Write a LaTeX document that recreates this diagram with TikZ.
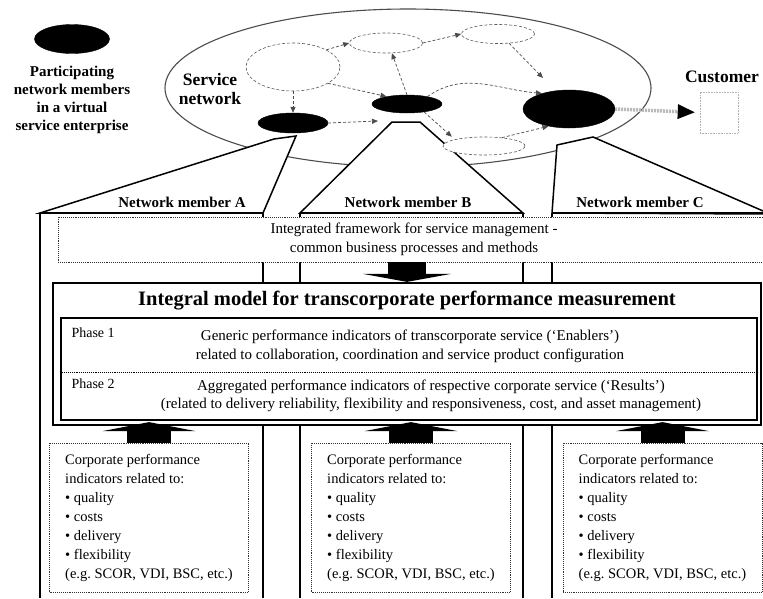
\documentclass[tikz,border=0pt]{standalone}
\usepackage{fontspec}
\setmainfont{Liberation Serif}
\usepackage{tikz}
\usetikzlibrary{shapes.geometric, arrows.meta, calc}
\definecolor{netgray}{gray}{0.3}
\tikzstyle{member} = [ellipse, fill=black, draw=black, inner sep=0pt]
\tikzstyle{service} = [
  ellipse, draw=gray!70!black, densely dashed,
  line width=0.6pt, fill=white, inner sep=0pt
]
\tikzstyle{flow} = [densely dashed, gray!60!black, line width=0.7pt, -{Triangle[length=6pt,width=5pt]}]
\tikzstyle{housing} = [draw=black, fill=white, line width=1.5pt, line join=miter]
\tikzstyle{column} = [black, line width=1.8pt]
\tikzstyle{tag} = [font=\fontsize{15}{18}\selectfont\bfseries, inner sep=1pt]
\tikzstyle{bigtag} = [font=\fontsize{17.5}{19}\selectfont\bfseries, inner sep=1pt]
\tikzstyle{bodytext} = [font=\fontsize{15}{18.5}\selectfont, align=center, inner sep=0pt]
\tikzstyle{indicators} = [
  rectangle, draw=black!80, densely dotted, line width=0.9pt, fill=white,
  minimum width=199pt, minimum height=149pt,
  align=left, font=\fontsize{14.5}{19}\selectfont\frenchspacing
]
\tikzstyle{blockarrow} = [black, line width=44pt, -{Triangle[length=9pt,width=93pt,line width=0pt]}]
\tikzstyle{deliver} = [
  gray!55, line width=3.5pt, dash pattern=on 2pt off 1pt, shorten >=5pt,
  -{Triangle[length=17pt,width=15pt,color=black,line width=0pt]}
]

\begin{document}
\begin{tikzpicture}[x=1pt, y=-1pt]
  \useasboundingbox (0,0) rectangle (763,598);
  \clip (0,0) rectangle (763,598);

  % Legend
  \node[member, minimum width=75pt, minimum height=29pt] (legend) at (72,39) {};
  \node[tag, align=center] (legendtext) at (72,100) {Participating\\network members\\in a virtual\\service enterprise};

  % Service network
  \node[ellipse, draw=netgray, line width=1.1pt, minimum width=486pt, minimum height=158pt] (net) at (408,88) {};
  \node[bigtag, align=center] (nettext) at (210,89) {Service\\network};

  % Housings of the network members
  \filldraw[housing] (40,213) -- (274,139) -- (296,136) -- (263,213) -- cycle;
  \filldraw[housing] (300,213) -- (392,122) -- (420,122) -- (523,213) -- cycle;
  \filldraw[housing] (552,213) -- (557,145) -- (593,137) -- (770,214) -- cycle;
  \foreach \x in {40, 263, 300, 523, 552}
    \draw[column] (\x,213) -- (\x,598);
  \draw[column, line width=2.4pt] (40,213) -- (263,213) (300,213) -- (523,213) (552,213) -- (770,213);

  \node[tag] (memberA) at (182,202) {Network member A};
  \node[tag] (memberB) at (408,202) {Network member B};
  \node[tag] (memberC) at (640,202) {Network member C};

  % Framework
  \node[rectangle, draw=black!80, densely dotted, line width=0.9pt, fill=white,
    minimum width=712pt, minimum height=45pt, bodytext] (frame) at (414,239.5)
    {Integrated framework for service management~-\\common business processes and methods};

  % Integral model
  \node[rectangle, draw, line width=2.2pt, fill=white, minimum width=708pt, minimum height=142pt] (integral) at (407,354) {};
  \node[font=\fontsize{20.5}{24}\selectfont\bfseries] (title) at (407,301) {Integral model for transcorporate performance measurement};
  \node[rectangle, draw, line width=1.3pt, minimum width=696pt, minimum height=102pt] (phases) at (409,369) {};
  \draw[densely dotted, line width=0.9pt] (phases.west |- 0,372) -- (phases.east |- 0,372);
  \node[font=\fontsize{14}{16}\selectfont, anchor=west] (phase1) at (68,333) {Phase 1};
  \node[font=\fontsize{14}{16}\selectfont, anchor=west] (phase2) at (68,384) {Phase 2};
  \node[bodytext] (enablers) at (410,346.5) {Generic performance indicators of transcorporate service (`Enablers')\\related to collaboration, coordination and service product configuration};
  \node[bodytext] (results) at (431,396) {Aggregated performance indicators of respective corporate service (`Results')\\(related to delivery reliability, flexibility and responsiveness, cost, and asset management)};

  % Corporate indicators
  \node[indicators] (corpA) at (149,517.5) {Corporate performance\\indicators related to:\\• quality\\• costs\\• delivery\\• flexibility\\(e.g. SCOR, VDI, BSC, etc.)};
  \node[indicators] (corpB) at (411,517.5) {Corporate performance\\indicators related to:\\• quality\\• costs\\• delivery\\• flexibility\\(e.g. SCOR, VDI, BSC, etc.)};
  \node[indicators] (corpC) at (662.5,517.5) {Corporate performance\\indicators related to:\\• quality\\• costs\\• delivery\\• flexibility\\(e.g. SCOR, VDI, BSC, etc.)};

  % Block arrows
  \draw[blockarrow, line width=38pt, -{Triangle[length=8pt,width=88pt,line width=0pt]}] (frame.south -| integral.north) -- (integral.north);
  \draw[blockarrow] (corpA.north) -- ($(corpA.north |- integral.south)+(0,-4)$);
  \draw[blockarrow] (corpB.north) -- ($(corpB.north |- integral.south)+(0,-4)$);
  \draw[blockarrow] (corpC.north) -- ($(corpC.north |- integral.south)+(0,-4)$);

  % Services inside the network
  \node[service, minimum width=94pt, minimum height=48pt] (svcA) at (293,67) {};
  \node[service, minimum width=73pt, minimum height=20pt] (svcB) at (386,43) {};
  \node[service, minimum width=73pt, minimum height=19pt] (svcC) at (498,34) {};
  \node[service, minimum width=82pt, minimum height=18pt] (svcD) at (484,146) {};
  \node[member, minimum width=70pt, minimum height=20pt] (memA) at (293,123) {};
  \node[member, minimum width=70pt, minimum height=18pt] (memB) at (407,104) {};
  \node[member, minimum width=92pt, minimum height=38pt] (memC) at (569,109) {};
  \coordinate (gapB) at (378,121);
  \coordinate (nearC) at (543,78);

  \draw[flow] (svcA.north east) -- (svcB.west);
  \draw[flow] (svcA.-25) -- (memB.160);
  \draw[flow] (svcA.south) -- (memA.north);
  \draw[flow] (memA.east) -- (gapB);
  \draw[flow] (memB.north) -- (svcB.-60);
  \draw[flow] (svcB.east) -- (svcC.west);
  \draw[flow] (svcC.-40) -- (nearC);
  \draw[flow] (memB.20) to[out=35, in=175] (memC.150);
  \draw[flow, shorten >=4pt] (memB.-25) -- (svcD.north west);
  \draw[flow] (svcD.25) -- (memC.-140);

  % Customer
  \node[bigtag] (customer) at (722,77) {Customer};
  \node[rectangle, draw=gray!60, densely dotted, line width=0.6pt, minimum width=38pt, minimum height=41pt] (custbox) at (719,112.5) {};
  \draw[deliver] (memC.east) -- (custbox.west);

\end{tikzpicture}
\end{document}
